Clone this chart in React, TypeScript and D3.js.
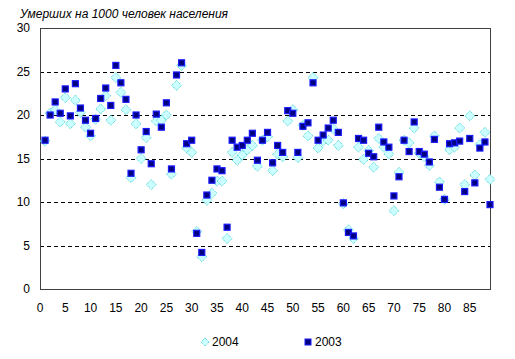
import React, { useEffect, useRef } from "react";
import * as d3 from "d3";

// Age (years) 1..89
const ages: number[] = d3.range(1, 90);

// Deaths per 1000, 2004
const deaths2004: number[] = [
  17.0, 20.2, 20.6, 19.2, 22.0, 19.0, 21.7, 20.3, 18.6, 17.6,
  19.5, 20.7, 22.2, 19.4, 24.3, 22.6, 20.6, 12.8, 19.0, 15.0,
  17.4, 12.0, 19.3, 19.4, 20.0, 13.2, 23.4, 25.7, 16.2, 15.7,
  6.6, 3.7, 10.2, 11.0, 12.4, 12.4, 5.8, 15.7, 14.8, 15.4,
  16.0, 16.5, 14.1, 17.1, 17.5, 13.6, 15.5, 15.2, 19.3, 20.6,
  15.1, 18.8, 17.6, 24.3, 16.2, 17.0, 17.1, 18.4, 16.5, 9.8,
  6.8, 5.8, 16.3, 14.9, 15.9, 14.0, 17.3, 16.3, 15.5, 9.0,
  13.4, 17.1, 16.8, 18.5, 15.6, 15.2, 14.2, 17.6, 12.3, 10.3,
  16.0, 16.3, 18.5, 12.0, 19.9, 13.1, 16.6, 18.0, 12.6,
];

// Deaths per 1000, 2003
const deaths2003: number[] = [
  17.1, 20.0, 21.5, 20.2, 23.0, 19.9, 23.6, 20.8, 19.4, 17.9,
  19.6, 21.9, 23.1, 21.1, 25.7, 23.7, 21.8, 13.3, 20.0, 16.0,
  18.1, 14.4, 20.1, 18.6, 21.4, 13.8, 24.6, 26.0, 16.7, 17.1,
  6.4, 4.2, 10.8, 12.5, 13.8, 13.6, 7.1, 17.1, 16.3, 16.5,
  17.1, 17.9, 14.8, 17.1, 18.0, 14.5, 16.5, 15.7, 20.5, 20.2,
  15.7, 18.7, 19.1, 23.7, 17.1, 17.7, 18.5, 19.4, 18.0, 9.9,
  6.5, 6.1, 17.3, 17.1, 15.6, 15.2, 18.6, 16.9, 16.3, 10.7,
  12.9, 17.1, 15.8, 19.2, 15.8, 15.5, 14.6, 17.2, 11.7, 10.3,
  16.7, 16.8, 17.0, 11.2, 17.3, 12.2, 16.2, 16.9, 9.7,
];

const xTicks: number[] = d3.range(0, 90, 5);
const yTicks: number[] = [0, 5, 10, 15, 20, 25, 30];
const title = "Умерших на 1000 человек населения";
const legendLabels = ["2004", "2003"];

export default function App() {
  const ref = useRef<SVGSVGElement>(null);

  useEffect(() => {
    if (!ref.current) return;
    const width = 515;
    const height = 359;
    const m = { top: 28, right: 25, bottom: 70, left: 40 };
    const font = "'Liberation Sans', Arial, sans-serif";

    const svg = d3.select(ref.current);
    svg.selectAll("*").remove();

    const x = d3.scaleLinear().domain([0, 89]).range([m.left, width - m.right]);
    const y = d3.scaleLinear().domain([0, 30]).range([height - m.bottom, m.top]);

    svg.append("rect").attr("width", width).attr("height", height).attr("fill", "#fff");

    // Title
    svg
      .append("text")
      .attr("x", 20)
      .attr("y", 18)
      .attr("font-family", font)
      .attr("font-size", 12)
      .attr("font-style", "italic")
      .attr("fill", "#000")
      .text(title);

    // Gridlines
    svg
      .append("g")
      .selectAll("line")
      .data(yTicks.filter((t) => t > 0 && t < 30))
      .join("line")
      .attr("x1", m.left)
      .attr("x2", width - m.right)
      .attr("y1", (d) => Math.round(y(d)) + 0.5)
      .attr("y2", (d) => Math.round(y(d)) + 0.5)
      .attr("stroke", "#000")
      .attr("stroke-dasharray", "4,3");

    // Frame
    svg
      .append("rect")
      .attr("x", m.left + 0.5)
      .attr("y", m.top + 0.5)
      .attr("width", width - m.left - m.right)
      .attr("height", height - m.top - m.bottom)
      .attr("fill", "none")
      .attr("stroke", "#404040")
      .attr("stroke-width", 1);

    // Y labels
    svg
      .append("g")
      .selectAll("text")
      .data(yTicks)
      .join("text")
      .attr("x", 30)
      .attr("y", (d) => y(d) + 4)
      .attr("text-anchor", "end")
      .attr("font-family", font)
      .attr("font-size", 12)
      .text((d) => d);

    // X labels
    svg
      .append("g")
      .selectAll("text")
      .data(xTicks)
      .join("text")
      .attr("x", (d) => x(d))
      .attr("y", height - m.bottom + 23)
      .attr("text-anchor", "middle")
      .attr("font-family", font)
      .attr("font-size", 12)
      .text((d) => d);

    const diamond = (cx: number, cy: number, r: number) =>
      `M${cx},${cy - r}L${cx + r},${cy}L${cx},${cy + r}L${cx - r},${cy}Z`;

    // 2004 diamonds
    svg
      .append("g")
      .selectAll("path")
      .data(deaths2004)
      .join("path")
      .attr("d", (d, i) => diamond(x(ages[i]), y(d), 5))
      .attr("fill", "#ccffff")
      .attr("stroke", "#33cccc")
      .attr("stroke-width", 1)
      .attr("stroke-dasharray", "1,1");

    // 2003 squares
    svg
      .append("g")
      .selectAll("rect")
      .data(deaths2003)
      .join("rect")
      .attr("x", (d, i) => x(ages[i]) - 3)
      .attr("y", (d) => y(d) - 3)
      .attr("width", 6)
      .attr("height", 6)
      .attr("fill", "#000080")
      .attr("stroke", "#1a1aff")
      .attr("stroke-width", 1.2);

    // Legend
    const ly = 342;
    svg
      .append("path")
      .attr("d", diamond(205, ly, 4))
      .attr("fill", "#ccffff")
      .attr("stroke", "#33cccc")
      .attr("stroke-dasharray", "1,1");
    svg
      .append("rect")
      .attr("x", 305)
      .attr("y", ly - 3)
      .attr("width", 6)
      .attr("height", 6)
      .attr("fill", "#000080")
      .attr("stroke", "#1a1aff");
    svg
      .append("g")
      .selectAll("text")
      .data(legendLabels)
      .join("text")
      .attr("x", (d, i) => (i === 0 ? 212 : 315))
      .attr("y", ly + 4)
      .attr("font-family", font)
      .attr("font-size", 12)
      .text((d) => d);
  }, []);

  return (
    <svg
      ref={ref}
      width={515}
      height={359}
      style={{ display: "block", position: "absolute", left: 0, top: 0 }}
    />
  );
}
